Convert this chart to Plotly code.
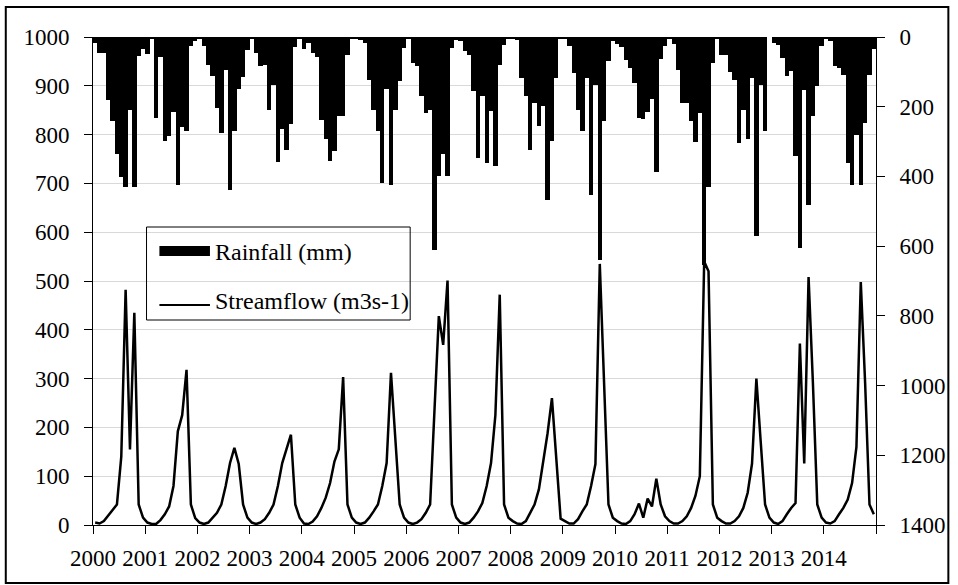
import plotly.graph_objects as go

years = list(range(2000, 2015))

# Monthly rainfall (mm), Jan..Dec for each year 2000-2014
rain_2000 = [17, 46, 46, 180, 242, 336, 402, 431, 208, 431, 54, 34]
rain_2001 = [49, 3, 232, 57, 299, 285, 216, 424, 259, 269, 25, 12]
rain_2002 = [3, 27, 79, 113, 204, 275, 94, 438, 271, 149, 115, 38]
rain_2003 = [3, 46, 82, 79, 208, 137, 359, 263, 325, 251, 29, 3]
rain_2004 = [33, 17, 46, 57, 237, 294, 355, 328, 228, 228, 51, 3]
rain_2005 = [3, 8, 17, 122, 208, 271, 419, 149, 424, 208, 127, 32]
rain_2006 = [6, 75, 84, 170, 218, 208, 610, 400, 337, 400, 32, 10]
rain_2007 = [12, 41, 51, 156, 347, 170, 361, 213, 371, 79, 22, 3]
rain_2008 = [6, 10, 118, 170, 323, 189, 256, 199, 467, 299, 118, 3]
rain_2009 = [3, 27, 103, 208, 271, 118, 452, 137, 639, 242, 70, 12]
rain_2010 = [20, 28, 66, 89, 132, 232, 236, 215, 178, 387, 63, 26]
rain_2011 = [3, 20, 95, 189, 189, 241, 301, 218, 654, 430, 75, 3]
rain_2012 = [52, 52, 100, 122, 304, 208, 294, 118, 572, 137, 271, 0]
rain_2013 = [17, 22, 60, 113, 98, 342, 605, 151, 481, 228, 141, 27]
rain_2014 = [3, 12, 84, 89, 108, 361, 424, 280, 424, 247, 108, 34]

# Monthly streamflow (m3 s-1)
flow_2000 = [5, 3, 8, 20, 32, 42, 140, 482, 155, 435, 42, 15]
flow_2001 = [5, 2, 2, 10, 22, 38, 80, 192, 225, 318, 42, 14]
flow_2002 = [5, 2, 5, 15, 25, 42, 80, 127, 158, 125, 42, 15]
flow_2003 = [5, 2, 5, 12, 25, 42, 80, 127, 155, 185, 42, 15]
flow_2004 = [3, 2, 7, 18, 35, 56, 86, 130, 155, 303, 42, 15]
flow_2005 = [5, 2, 5, 15, 28, 42, 80, 127, 312, 175, 42, 15]
flow_2006 = [5, 2, 5, 12, 25, 42, 235, 428, 369, 501, 42, 15]
flow_2007 = [5, 2, 5, 15, 28, 45, 80, 127, 225, 472, 42, 15]
flow_2008 = [8, 3, 2, 8, 25, 42, 73, 127, 188, 260, 134, 13]
flow_2009 = [8, 3, 3, 12, 28, 42, 80, 125, 535, 268, 42, 15]
flow_2010 = [8, 3, 2, 8, 22, 44, 15, 54, 38, 95, 42, 18]
flow_2011 = [8, 3, 3, 8, 18, 35, 60, 100, 540, 520, 42, 15]
flow_2012 = [8, 3, 3, 8, 18, 35, 66, 126, 300, 170, 42, 15]
flow_2013 = [5, 2, 8, 22, 35, 45, 372, 126, 508, 290, 42, 15]
flow_2014 = [5, 3, 8, 22, 35, 52, 86, 160, 498, 291, 42, 22]

rainfall = (rain_2000 + rain_2001 + rain_2002 + rain_2003 + rain_2004 + rain_2005 +
            rain_2006 + rain_2007 + rain_2008 + rain_2009 + rain_2010 + rain_2011 +
            rain_2012 + rain_2013 + rain_2014)
streamflow = (flow_2000 + flow_2001 + flow_2002 + flow_2003 + flow_2004 + flow_2005 +
              flow_2006 + flow_2007 + flow_2008 + flow_2009 + flow_2010 + flow_2011 +
              flow_2012 + flow_2013 + flow_2014)

# month centres as decimal years
months_x = [years[0] + (i + 0.5) / 12 for i in range(len(rainfall))]

tick_vals = years + [2015]
tick_text = [str(y) for y in years] + [""]

FONT = "Liberation Serif"
FS = 23

fig = go.Figure()
fig.add_trace(go.Scatter(
    x=months_x, y=streamflow, mode="lines", name="Streamflow (m3s-1)",
    line=dict(color="black", width=2.5), yaxis="y", showlegend=False,
))
fig.add_trace(go.Bar(
    x=months_x, y=rainfall, name="Rainfall (mm)", width=1 / 12,
    marker=dict(color="black", line=dict(width=0)), yaxis="y2", showlegend=False,
))

W, H = 958, 585
L, R, T, B = 93, 75, 37, 60
pw, ph = W - L - R, H - T - B


def px(x):
    return (x - L) / pw


def py(y):
    return (H - B - y) / ph


shapes = [
    # outer frame
    dict(type="rect", xref="paper", yref="paper", x0=px(5), x1=px(956), y0=py(583), y1=py(7),
         line=dict(color="black", width=2), fillcolor="rgba(0,0,0,0)", layer="above"),
    # legend box
    dict(type="rect", xref="paper", yref="paper", x0=px(147), x1=px(413), y0=py(320), y1=py(227),
         line=dict(color="black", width=1), fillcolor="rgba(0,0,0,0)", layer="above"),
    # legend symbols
    dict(type="rect", xref="paper", yref="paper", x0=px(160), x1=px(211), y0=py(256), y1=py(246),
         line=dict(width=0), fillcolor="black", layer="above"),
    dict(type="line", xref="paper", yref="paper", x0=px(160), x1=px(211), y0=py(305), y1=py(305),
         line=dict(color="black", width=2), layer="above"),
]
annotations = [
    dict(xref="paper", yref="paper", x=px(214), y=py(252), xanchor="left", yanchor="middle",
         text="Rainfall (mm)", showarrow=False, font=dict(family=FONT, size=24, color="black")),
    dict(xref="paper", yref="paper", x=px(214), y=py(301), xanchor="left", yanchor="middle",
         text="Streamflow (m3s-1)", showarrow=False, font=dict(family=FONT, size=24, color="black")),
]

fig.update_layout(
    width=W, height=H,
    margin=dict(l=L, r=R, t=T, b=B, pad=0),
    paper_bgcolor="white", plot_bgcolor="white",
    bargap=0, showlegend=False,
    font=dict(family=FONT, size=FS, color="black"),
    xaxis=dict(range=[2000, 2015], tickmode="array", tickvals=tick_vals, ticktext=tick_text,
               showgrid=False, zeroline=False, showline=True, linecolor="black", linewidth=1,
               ticks="outside", ticklen=8, tickcolor="black", ticklabelstandoff=4),
    yaxis=dict(range=[0, 1000], dtick=100, showgrid=True, gridcolor="#d9d9d9", gridwidth=1,
               zeroline=False, showline=True, linecolor="black", linewidth=1,
               ticks="outside", ticklen=8, tickcolor="black", ticklabelstandoff=10),
    yaxis2=dict(range=[1400, 0], dtick=200, overlaying="y", side="right", showgrid=False,
                zeroline=False, showline=True, linecolor="black", linewidth=1,
                ticks="outside", ticklen=8, tickcolor="black", ticklabelstandoff=10),
    shapes=shapes, annotations=annotations,
)

fig.write_html("out.html")
